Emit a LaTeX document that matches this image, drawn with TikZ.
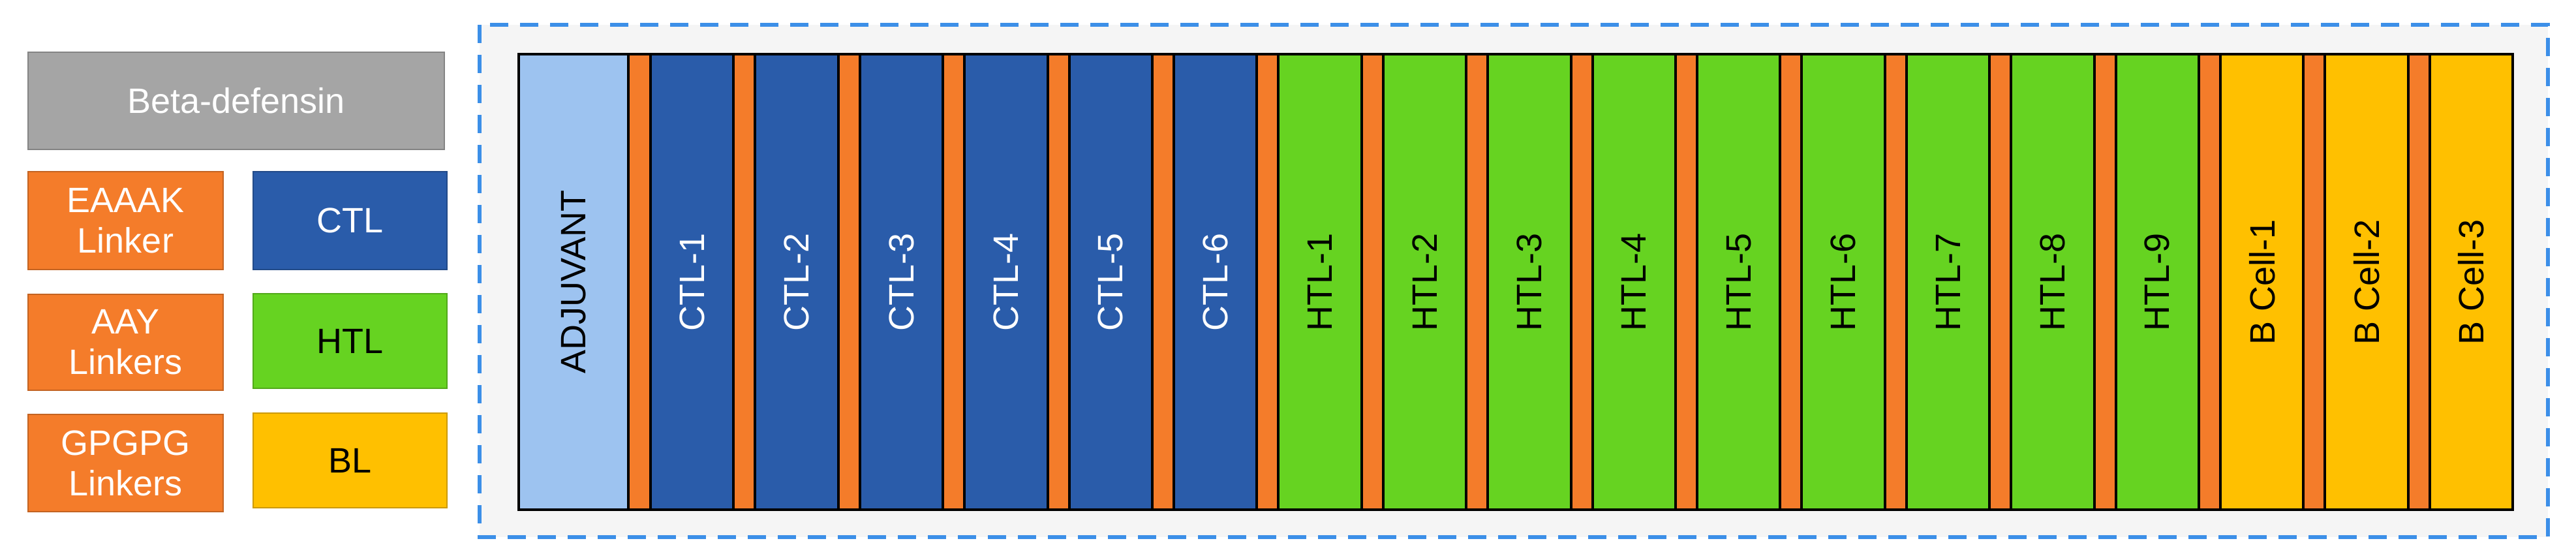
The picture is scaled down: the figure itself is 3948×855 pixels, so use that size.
\documentclass[tikz,border=0pt]{standalone}
\usepackage{fontspec}
\setmainfont{Liberation Sans}
\definecolor{ctlc}{HTML}{2A5CAA}
\definecolor{htlc}{HTML}{66D321}
\definecolor{blc}{HTML}{FFC000}
\definecolor{orc}{HTML}{F47C2A}
\definecolor{adjc}{HTML}{9DC3F0}
\definecolor{grc}{HTML}{A5A5A5}
\definecolor{frc}{HTML}{3C8FE8}
\begin{document}
\begin{tikzpicture}[x=0.5pt,y=-0.5pt,
  legbox/.style={draw=#1!80!black, fill=#1, line width=1pt, anchor=north west, inner sep=0pt, align=center, font=\fontsize{27}{31}\selectfont},
  seg/.style={draw=black, line width=2pt, fill=#1, anchor=north west, inner sep=0pt, minimum height=698*0.5pt},
  vlab/.style={rotate=90, font=\fontsize{27}{31}\selectfont}]
\useasboundingbox (0,0) rectangle (3948,855);
% legend
\node[legbox=grc, minimum width=638*0.5pt, minimum height=149*0.5pt, text=white] (beta) at (42,79) {Beta-defensin};
\node[legbox=orc, minimum width=299*0.5pt, minimum height=150*0.5pt, text=white] (eaaak) at (42,262) {EAAAK\\Linker};
\node[legbox=orc, minimum width=299*0.5pt, minimum height=147*0.5pt, text=white] (aay) at (42,450) {AAY\\Linkers};
\node[legbox=orc, minimum width=299*0.5pt, minimum height=149*0.5pt, text=white] (gpg) at (42,634) {GPGPG\\Linkers};
\node[legbox=ctlc, minimum width=297*0.5pt, minimum height=150*0.5pt, text=white] (lctl) at (387,262) {CTL};
\node[legbox=htlc, minimum width=297*0.5pt, minimum height=145*0.5pt, text=black] (lhtl) at (387,449) {HTL};
\node[legbox=blc, minimum width=297*0.5pt, minimum height=145*0.5pt, text=black] (lbl) at (387,632) {BL};
% frame
\draw[frc, line width=3pt, dash pattern=on 14pt off 9pt, fill=black!4] (735,38) rectangle (3905,823);
\node[seg=adjc, minimum width=168*0.5pt] (adj) at (793,81) {};
\node[vlab] at (adj.center) {ADJUVANT};
\node[seg=orc, minimum width=34*0.5pt] (l0) at (961,81) {};
\foreach \i in {1,...,18}{
  \pgfmathsetmacro{\xx}{995+(\i-1)*160.4}
  \pgfmathtruncatemacro{\k}{\i<7 ? \i : (\i<16 ? \i-6 : \i-15)}
  \ifnum\i<7
    \node[seg=ctlc, minimum width=127.4*0.5pt] (s\i) at (\xx,81) {};
    \node[vlab, text=white] at (s\i.center) {CTL-\k};
  \else\ifnum\i<16
    \node[seg=htlc, minimum width=127.4*0.5pt] (s\i) at (\xx,81) {};
    \node[vlab] at (s\i.center) {HTL-\k};
  \else
    \node[seg=blc, minimum width=127.4*0.5pt] (s\i) at (\xx,81) {};
    \node[vlab] at (s\i.center) {B Cell-\k};
  \fi\fi
  \ifnum\i<18
    \node[seg=orc, minimum width=33*0.5pt] (l\i) at (\xx+127.4,81) {};
  \fi
}
\end{tikzpicture}
\end{document}
